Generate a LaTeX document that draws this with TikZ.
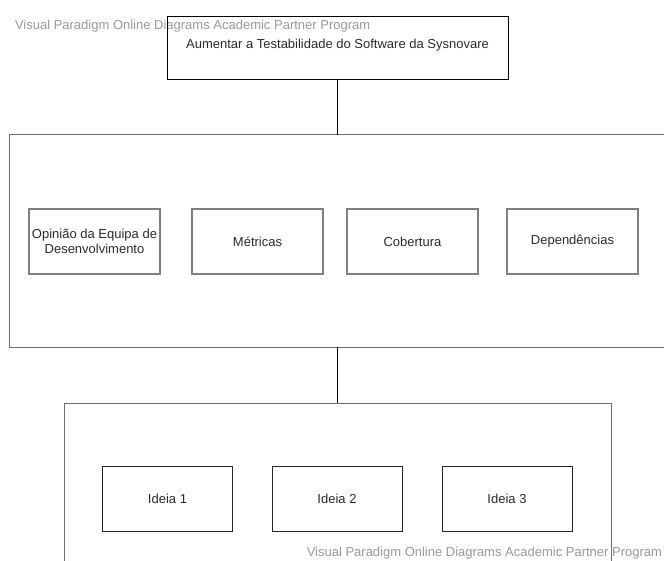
\documentclass[tikz,border=0pt]{standalone}
\usepackage{fontspec}
\setmainfont{Liberation Sans}
\definecolor{labeltext}{HTML}{2B2B2B}
\definecolor{marktext}{HTML}{9A9A9A}
\definecolor{greyline}{HTML}{6E6E6E}
\definecolor{softline}{HTML}{808080}
\begin{document}
\begin{tikzpicture}[x=1pt,y=-1pt,
  every node/.style={inner sep=0pt, outer sep=0pt, font=\fontsize{13}{14.5}\selectfont, text=labeltext},
  goalbox/.style={draw=black, line width=0.9pt, minimum width=341pt, minimum height=63pt},
  groupbox/.style={draw=greyline, line width=1pt},
  factorbox/.style={draw=softline, line width=1.5pt, minimum width=131pt, minimum height=65pt, align=center},
  ideabox/.style={draw=black!85, line width=0.9pt, minimum width=130pt, minimum height=65pt},
  link/.style={draw=black, line width=1pt},
  watermark/.style={text=marktext, font=\fontsize{13}{14.5}\selectfont}
]
\useasboundingbox (0,0) rectangle (664,561);
\clip (0,0) rectangle (664,561);
\fill[white] (0,0) rectangle (664,561);

% watermark lines
\node[watermark, anchor=west] (wmtop) at (15,26) {Visual Paradigm Online Diagrams Academic Partner Program};

% goal
\node[goalbox] (goal) at (337.5,47.5) {};
\node (goaltext) at (337.5,45.5) {Aumentar a Testabilidade do Software da Sysnovare};

% factor group
\node[groupbox, minimum width=657pt, minimum height=212pt] (factors) at (337.5,241) {};
\node[factorbox] (opiniao) at (94.5,241.5) {Opinião da Equipa de\\Desenvolvimento};
\node[factorbox] (metricas) at (257.5,241.5) {Métricas};
\node[factorbox] (cobertura) at (412.5,241.5) {Cobertura};
\node[factorbox] (dependencias) at (572.5,241.5) {Dependências};

% idea group
\node[groupbox, minimum width=547pt, minimum height=167pt] (ideas) at (337.5,486.5) {};
\node[ideabox] (ideia1) at (167.5,498.5) {Ideia 1};
\node[ideabox] (ideia2) at (337,498.5) {Ideia 2};
\node[ideabox] (ideia3) at (507,498.5) {Ideia 3};

% connectors
\draw[link] (goal.south) -- (goal.south |- factors.north);
\draw[link] (factors.south) -- (factors.south |- ideas.north);

\node[watermark, anchor=east] (wmbottom) at (662,553) {Visual Paradigm Online Diagrams Academic Partner Program};
\end{tikzpicture}
\end{document}
